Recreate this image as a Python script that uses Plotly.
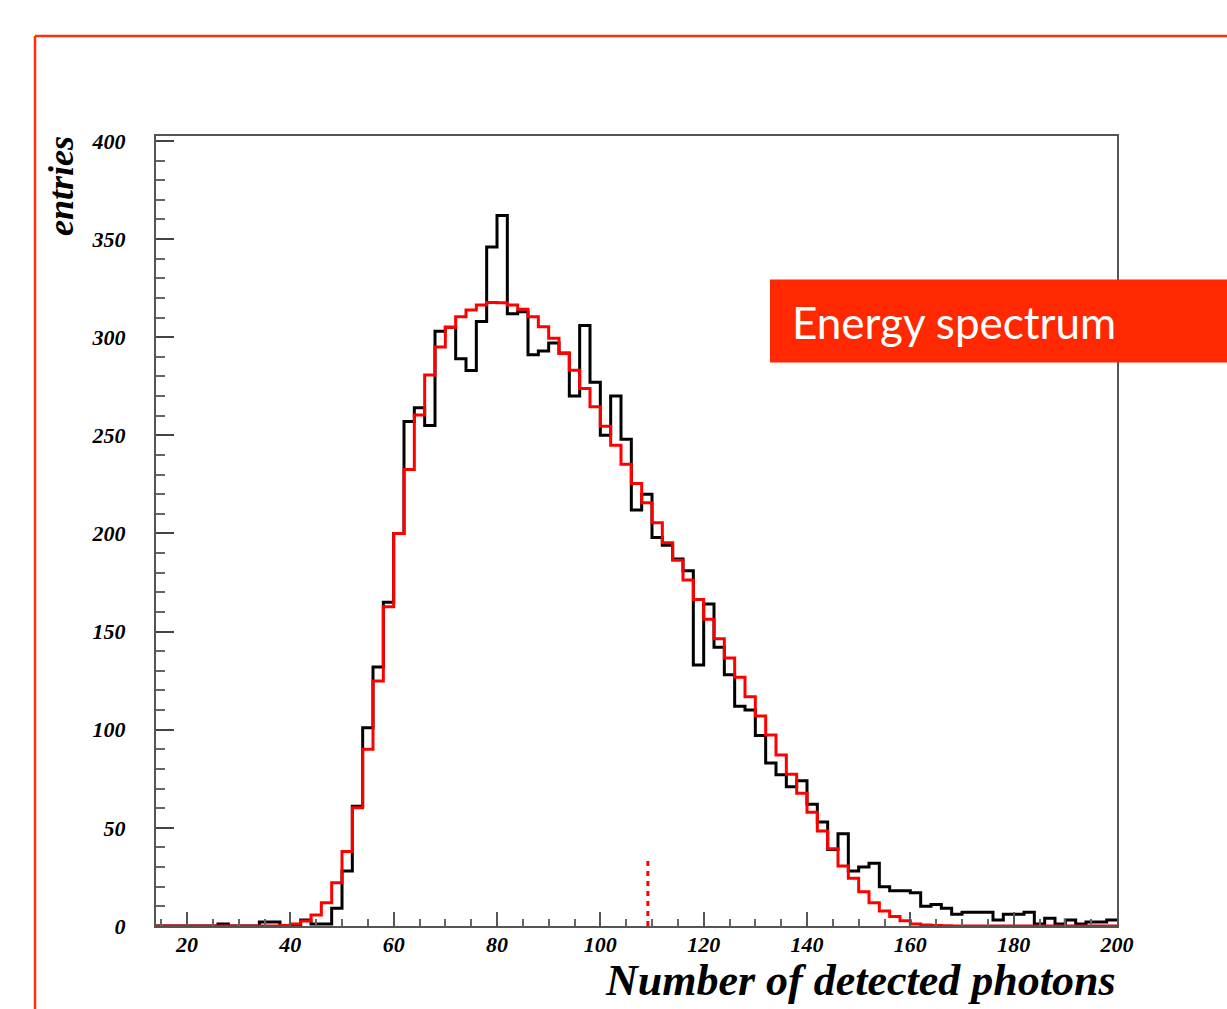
import plotly.graph_objects as go

# ---------------- data ----------------
bin_edges = list(range(14, 202, 2))  # 14 .. 200, width 2

data_counts = [
    0, 0, 0, 0, 0, 0, 1, 0, 0, 0,
    2, 2, 0, 0, 3, 1, 1, 9, 28, 61,
    101, 132, 165, 200, 257, 264, 255, 303, 305, 289,
    283, 308, 346, 362, 312, 313, 291, 293, 297, 292,
    270, 306, 277, 250, 270, 248, 212, 220, 198, 194,
    187, 181, 133, 164, 142, 128, 112, 110, 97, 83,
    77, 71, 74, 62, 53, 39, 47, 28, 30, 32,
    20, 18, 18, 17, 10, 11, 9, 6, 7, 7,
    7, 3, 6, 6, 7, 1, 4, 1, 3, 1,
    2, 2, 3,
]

fit_counts = [
    0, 0, 0, 0, 0, 0, 0, 0, 0, 0,
    0, 0, 0.3, 1.0, 2.5, 5.6, 11.9, 22.0, 37.9, 60.3,
    90.0, 124.8, 162.7, 200.0, 232.6, 260.3, 280.7, 295.0, 305.0, 310.4,
    313.8, 316.4, 317.7, 317.6, 316.4, 314.2, 310.4, 305.3, 299.4, 291.7,
    283.2, 273.9, 264.5, 254.6, 245.0, 235.2, 225.5, 215.6, 205.5, 195.3,
    186.4, 176.3, 166.3, 156.3, 146.4, 136.5, 126.8, 116.8, 107.0, 97.3,
    87.1, 77.3, 67.6, 57.9, 48.4, 39.3, 30.6, 24.3, 17.5, 11.9,
    7.6, 4.8, 2.7, 1.0, 0.5, 0.2, 0.1, 0, 0, 0,
    0, 0, 0, 0, 0, 0, 0, 0, 0, 0,
    0, 0, 0,
]

marker_x = [109.2, 109.2]
marker_y = [0, 34.5]

x_range = [14, 200]
y_range = [0, 402.5]

x_title = "Number of detected photons"
y_title = "entries"
box_text = "Energy spectrum"

# ---------------- figure geometry ----------------
W, H = 1227, 1009
L, R, T, B = 156, 1117, 136, 926  # plot area in pixels


def px(xp):
    return (xp - L) / (R - L)


def py(yp):
    return (B - yp) / (B - T)


def step(vals):
    return list(vals) + [vals[-1]]


fig = go.Figure()

fig.add_trace(go.Scatter(
    x=bin_edges, y=step(data_counts), mode="lines",
    line=dict(color="#000000", width=3, shape="hv"),
    showlegend=False, hoverinfo="skip",
))
fig.add_trace(go.Scatter(
    x=bin_edges, y=step(fit_counts), mode="lines",
    line=dict(color="#ff0000", width=3, shape="hv"),
    showlegend=False, hoverinfo="skip",
))
fig.add_trace(go.Scatter(
    x=marker_x, y=marker_y, mode="lines",
    line=dict(color="#ff0000", width=3, dash="5px,5px"),
    showlegend=False, hoverinfo="skip",
))

tick_font = dict(family="Liberation Serif", size=22, color="#000000",
                 weight="bold", style="italic")

fig.update_xaxes(
    range=x_range, tickmode="linear", tick0=0, dtick=20,
    ticks="inside", ticklen=14, tickwidth=1.5, tickcolor="#555555",
    minor=dict(ticks="inside", dtick=5, tick0=0, ticklen=7,
               tickwidth=1.5, tickcolor="#666666"),
    showline=True, linecolor="#555555", linewidth=1.5, mirror=True,
    showgrid=False, zeroline=False,
    tickfont=tick_font, ticklabelstandoff=-2,
)
fig.update_yaxes(
    range=y_range, tickmode="linear", tick0=0, dtick=50,
    ticks="inside", ticklen=18, tickwidth=1.5, tickcolor="#444444",
    minor=dict(ticks="inside", dtick=10, tick0=0, ticklen=9,
               tickwidth=1.5, tickcolor="#666666"),
    showline=True, linecolor="#555555", linewidth=2, mirror=True,
    showgrid=False, zeroline=False,
    tickfont=tick_font, ticklabelstandoff=24,
)

slide_red = "#ff3010"
shapes = [
    # slide frame lines
    dict(type="line", xref="paper", yref="paper",
         x0=px(35), x1=px(1240), y0=py(36), y1=py(36),
         line=dict(color=slide_red, width=2.5)),
    dict(type="line", xref="paper", yref="paper",
         x0=px(35), x1=px(35), y0=py(36), y1=py(1020),
         line=dict(color=slide_red, width=2.5)),
    # "Energy spectrum" box
    dict(type="rect", xref="paper", yref="paper",
         x0=px(770), x1=px(1240), y0=py(279.5), y1=py(362.5),
         fillcolor="#ff2800", line=dict(width=0), layer="above"),
]

annotations = [
    dict(text=box_text, xref="paper", yref="paper",
         x=px(790), y=py(322), xanchor="left", yanchor="middle",
         showarrow=False,
         font=dict(family="Lato", size=44, color="#ffffff")),
    dict(text=y_title, xref="paper", yref="paper",
         x=px(61), y=py(134), xanchor="center", yanchor="top",
         textangle=-90, showarrow=False,
         font=dict(family="Liberation Serif", size=36, color="#000000",
                   weight="bold", style="italic")),
    dict(text=x_title, xref="paper", yref="paper",
         x=px(1118), y=py(981), xanchor="right", yanchor="middle",
         showarrow=False,
         font=dict(family="Liberation Serif", size=44, color="#000000",
                   weight="bold", style="italic")),
]

fig.update_layout(
    width=W, height=H,
    margin=dict(l=L, r=W - R, t=T, b=H - B, pad=0),
    paper_bgcolor="#ffffff", plot_bgcolor="#ffffff",
    shapes=shapes, annotations=annotations,
    showlegend=False,
)

fig.write_html("out.html")
